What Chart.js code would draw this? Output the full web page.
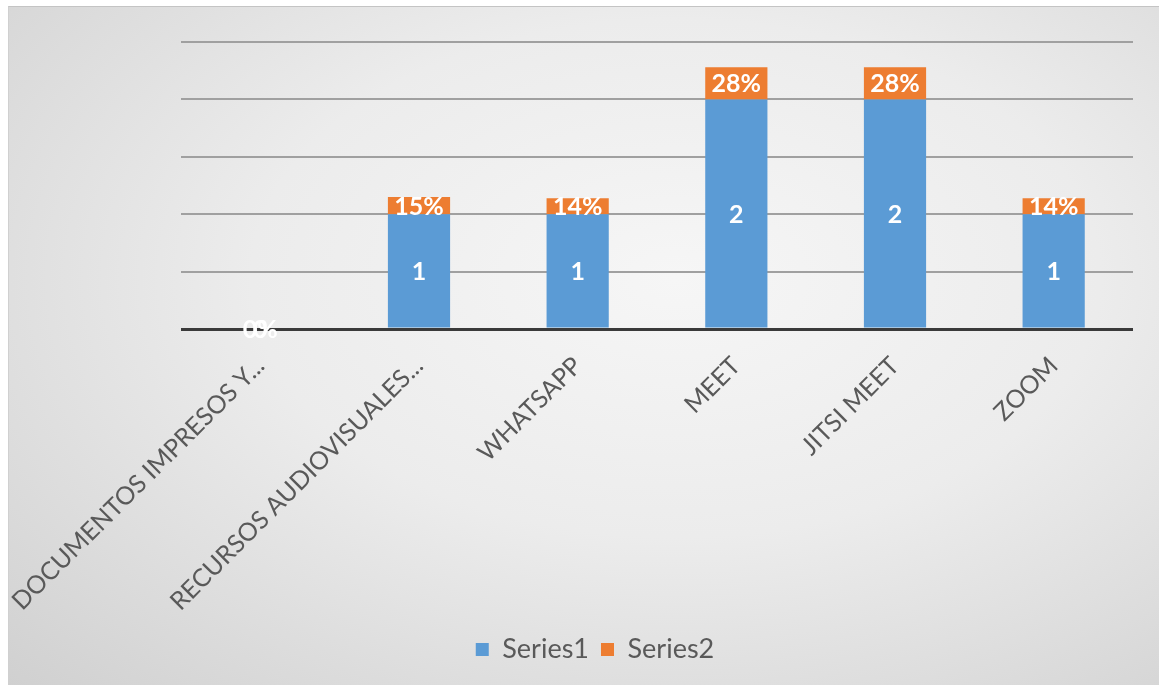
<!DOCTYPE html>
<html>
<head>
<meta charset="utf-8">
<script src="https://cdn.jsdelivr.net/npm/chart.js@4.4.1/dist/chart.umd.min.js"></script>
<style>
  html, body { margin: 0; padding: 0; background: #fff; }
  #frame {
    position: absolute; left: 8px; top: 6px; width: 1151px; height: 679px;
    background: radial-gradient(ellipse at 58% 40%, #f6f6f6 0%, #ececec 45%, #d0d0d0 100%);
    border-top: 1px solid #c4c4c4; border-left: 1px solid #d0d0d0;
    box-sizing: border-box;
  }
  #wrap { position: absolute; left: 0; top: 0; width: 1159px; height: 685px; }
</style>
</head>
<body>
<div id="frame"></div>
<div id="wrap"><canvas id="chart" width="1159" height="685"></canvas></div>
<script>
// データ
const categories = [
  "DOCUMENTOS IMPRESOS Y...",
  "RECURSOS AUDIOVISUALES...",
  "WHATSAPP",
  "MEET",
  "JITSI MEET",
  "ZOOM",
];
const series1 = [0, 1, 1, 2, 2, 1];
const series2 = [0, 0.15, 0.14, 0.28, 0.28, 0.14];
const yTicks = [0, 0.5, 1, 1.5, 2, 2.5];

// バー上のラベル
const labelPlugin = {
  id: "barLabels",
  afterDatasetsDraw(chart) {
    const ctx = chart.ctx;
    ctx.save();
    ctx.fillStyle = "#ffffff";
    ctx.font = "bold 25px Lato";
    ctx.textAlign = "center";
    ctx.textBaseline = "middle";
    chart.data.datasets.forEach((ds, i) => {
      const meta = chart.getDatasetMeta(i);
      meta.data.forEach((bar, j) => {
        const v = ds.data[j];
        const text = i === 0 ? String(v) : Math.round(v * 100) + "%";
        const y = (bar.y + bar.base) / 2;
        ctx.fillText(text, bar.x, y + 1);
      });
    });
    ctx.restore();
  },
};

const ctx = document.getElementById("chart").getContext("2d");
new Chart(ctx, {
  type: "bar",
  data: {
    labels: categories,
    datasets: [
      {
        label: "Series1",
        data: series1,
        backgroundColor: "#5b9bd5",
        categoryPercentage: 0.8,
        barPercentage: 0.49,
      },
      {
        label: "Series2",
        data: series2,
        backgroundColor: "#ed7d31",
        categoryPercentage: 0.8,
        barPercentage: 0.49,
      },
    ],
  },
  options: {
    responsive: false,
    animation: false,
    layout: {
      padding: { left: 57, right: 26, top: 42, bottom: 12 },
    },
    plugins: {
      legend: {
        position: "bottom",
        labels: {
          boxWidth: 13,
          boxHeight: 13,
          padding: 12,
          color: "#595959",
          font: { family: "Lato", size: 27 },
        },
      },
      tooltip: { enabled: false },
    },
    scales: {
      x: {
        stacked: true,
        grid: { display: false },
        border: { display: false },
        ticks: {
          color: "#595959",
          font: { family: "Lato", size: 25 },
          minRotation: 45,
          maxRotation: 45,
          autoSkip: false,
          padding: 14,
        },
        afterFit: function (scale) {
          scale.height = 295;
          scale.paddingLeft = 0;
          scale.paddingRight = 0;
        },
      },
      y: {
        stacked: true,
        min: 0,
        max: 2.5,
        afterBuildTicks: function (scale) {
          scale.ticks = yTicks.map((v) => ({ value: v }));
        },
        ticks: { display: false },
        border: { display: false },
        grid: {
          drawTicks: false,
          color: (c) => (c.tick && c.tick.value === 0 ? "#3a3a3a" : "#a0a0a0"),
          lineWidth: (c) => (c.tick && c.tick.value === 0 ? 3 : 2),
        },
        afterFit: function (scale) {
          scale.width = 124;
        },
      },
    },
  },
  plugins: [labelPlugin],
});
</script>
</body>
</html>
